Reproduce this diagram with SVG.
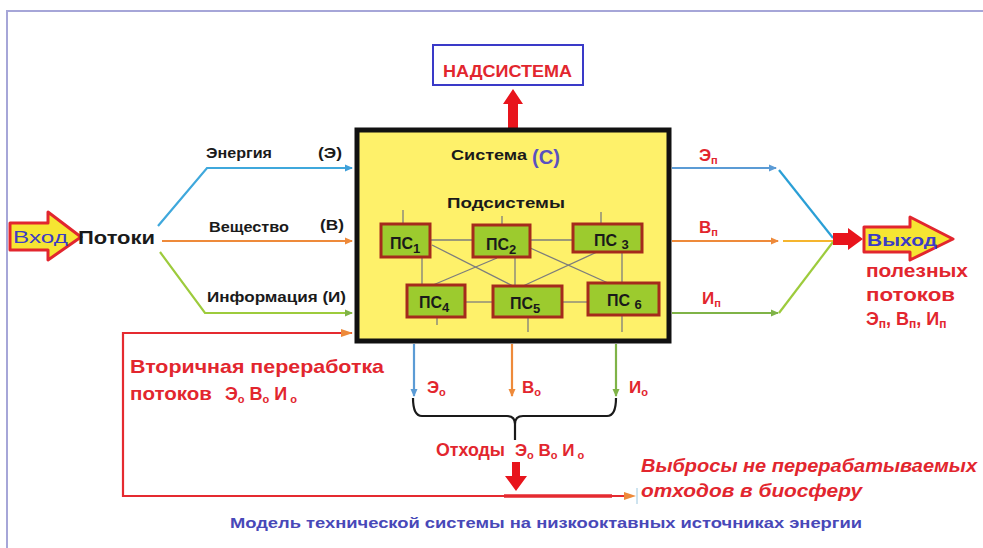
<svg xmlns="http://www.w3.org/2000/svg" width="983" height="548" viewBox="0 0 983 548">
  <defs>
    <style>
      text { font-family: "Liberation Sans", "DejaVu Sans", sans-serif; font-weight: bold; }
      .blk { fill: #1a1a1a; }
      .red { fill: #e2262e; }
      .blu { fill: #3c3cc4; }
      .lbl { font-size: 14px; fill: #1a1a1a; }
      .ps rect { fill: #9ccb2e; stroke: #a52a1c; stroke-width: 3; }
      .ps text { font-size: 16px; fill: #1a1a1a; }
      .net line { stroke: #7d7d7d; stroke-width: 1.3; }
      .flow { fill: none; stroke-width: 2.2; }
    </style>
    <marker id="ah-blue" markerWidth="8" markerHeight="8" refX="7" refY="4" orient="auto" markerUnits="userSpaceOnUse">
      <path d="M0,0.5 L8,4 L0,7.5 Z" fill="#3fa0da"/>
    </marker>
    <marker id="ah-orange" markerWidth="8" markerHeight="8" refX="7" refY="4" orient="auto" markerUnits="userSpaceOnUse">
      <path d="M0,0.5 L8,4 L0,7.5 Z" fill="#ee8a3a"/>
    </marker>
    <marker id="ah-green" markerWidth="8" markerHeight="8" refX="7" refY="4" orient="auto" markerUnits="userSpaceOnUse">
      <path d="M0,0.5 L8,4 L0,7.5 Z" fill="#7fb347"/>
    </marker>
    <marker id="ah-blue2" markerWidth="8" markerHeight="8" refX="7" refY="4" orient="auto" markerUnits="userSpaceOnUse">
      <path d="M0,0.5 L8,4 L0,7.5 Z" fill="#5b9bd5"/>
    </marker>
  </defs>

  <rect width="983" height="548" fill="#ffffff"/>
  <!-- page frame -->
  <path d="M7,548 L7,11 L983,11" fill="none" stroke="#a6a6d8" stroke-width="2"/>

  <!-- connectors -->
  <g id="connectors">
    <!-- input flows -->
    <path class="flow" d="M158,226 L207,168 L352,168" stroke="#3fa8dc" marker-end="url(#ah-blue)"/>
    <path class="flow" d="M162,241 L352,241" stroke="#ee8a3a" marker-end="url(#ah-orange)"/>
    <path class="flow" d="M160,252 L205,313 L352,313" stroke="#9dcb3c" marker-end="url(#ah-green)"/>

    <!-- output flows -->
    <path class="flow" d="M672,168 L776,168" stroke="#5b9bd5" marker-end="url(#ah-blue2)"/>
    <path class="flow" d="M779,170 L833,238" stroke="#2a9fd6"/>
    <path class="flow" d="M672,241 L778,241" stroke="#ee8a3a" marker-end="url(#ah-orange)"/>
    <path class="flow" d="M783,241 L833,241" stroke="#f5b52e"/>
    <path class="flow" d="M672,313 L778,313" stroke="#7fb347" marker-end="url(#ah-green)"/>
    <path class="flow" d="M779,313 L833,242" stroke="#9dcb3c"/>

    <!-- red arrow to output -->
    <path d="M833,233 L848,233 L848,228 L863,239 L848,250 L848,245 L833,245 Z" fill="#e8141c"/>

    <!-- up arrow to supersystem -->
    <path d="M508,128 L508,104 L503,104 L513,89 L523,104 L518,104 L518,128 Z" fill="#e8141c"/>

    <!-- waste flows down -->
    <path class="flow" d="M414,344 L414,396" stroke="#5b9bd5" marker-end="url(#ah-blue2)"/>
    <path class="flow" d="M512,344 L512,396" stroke="#ee8a3a" marker-end="url(#ah-orange)"/>
    <path class="flow" d="M616,344 L616,396" stroke="#7fb347" marker-end="url(#ah-green)"/>

    <!-- brace -->
    <path d="M413,398 Q413,416 422,416 L507,416 Q515,416 515,424 L515,440 M515,424 Q515,416 523,416 L607,416 Q616,416 616,398" fill="none" stroke="#1a1a1a" stroke-width="2.2"/>

    <!-- recycling loop -->
    <path d="M352,333 L123,333 L123,496 L631,496" fill="none" stroke="#e52a30" stroke-width="2.2"/>
    <path d="M504,496 L612,496" fill="none" stroke="#e52a30" stroke-width="3.5"/>
    <path d="M341,329 L353,333 L341,337 Z" fill="#ee8a3a"/>
    <path d="M624,492 L636,496 L624,500 Z" fill="#ee8a3a"/>
    <line x1="637" y1="488" x2="637" y2="504" stroke="#9cc8e0" stroke-width="1"/>

    <!-- red arrow to biosphere -->
    <path d="M512,462 L520,462 L520,476 L527,476 L516,491 L505,476 L512,476 Z" fill="#e8141c"/>
  </g>

  <!-- input arrow -->
  <g id="node-vhod">
    <path d="M10,223 L48,223 L48,212 L81,237 L48,260 L48,250 L10,250 Z" fill="#f6e532" stroke="#e2262e" stroke-width="3" stroke-linejoin="round"/>
    <text x="13" y="243" font-size="17" class="blu" style="font-weight:normal" textLength="55" lengthAdjust="spacingAndGlyphs">Вход</text>
  </g>

  <g id="node-potoki">
    <text x="78" y="244" font-size="18" class="blk" textLength="77" lengthAdjust="spacingAndGlyphs">Потоки</text>
  </g>

  <!-- flow labels -->
  <g id="labels-in">
    <text x="206" y="158" class="lbl" textLength="66" lengthAdjust="spacingAndGlyphs">Энергия</text>
    <text x="318" y="158" class="lbl" textLength="24" lengthAdjust="spacingAndGlyphs">(Э)</text>
    <text x="209" y="232" class="lbl" textLength="80" lengthAdjust="spacingAndGlyphs">Вещество</text>
    <text x="320" y="230" class="lbl" textLength="24" lengthAdjust="spacingAndGlyphs">(В)</text>
    <text x="207" y="302" class="lbl" textLength="139" lengthAdjust="spacingAndGlyphs">Информация (И)</text>
  </g>

  <!-- supersystem -->
  <g id="node-nadsistema">
    <rect x="433" y="45" width="150" height="40" fill="#ffffff" stroke="#3a3ac8" stroke-width="2"/>
    <text x="443" y="77" font-size="16" class="red" textLength="129" lengthAdjust="spacingAndGlyphs">НАДСИСТЕМА</text>
  </g>

  <!-- system -->
  <g id="node-sistema">
    <rect x="357" y="130" width="312" height="211" fill="#fef16a" stroke="#111111" stroke-width="5"/>
    <text x="451" y="160" font-size="15" class="blk" textLength="76" lengthAdjust="spacingAndGlyphs">Система</text>
    <text x="532" y="164" font-size="20" fill="#5a52c0" textLength="28" lengthAdjust="spacingAndGlyphs">(С)</text>
    <text x="447" y="208" font-size="15" class="blk" textLength="118" lengthAdjust="spacingAndGlyphs">Подсистемы</text>

    <!-- links between subsystems -->
    <g class="net">
      <line x1="430" y1="240" x2="473" y2="240"/>
      <line x1="530" y1="240" x2="573" y2="240"/>
      <line x1="465" y1="302" x2="493" y2="302"/>
      <line x1="562" y1="302" x2="588" y2="302"/>
      <line x1="422" y1="257" x2="422" y2="285"/>
      <line x1="515" y1="257" x2="515" y2="286"/>
      <line x1="622" y1="252" x2="622" y2="283"/>
      <line x1="432" y1="245" x2="513" y2="286"/>
      <line x1="497" y1="258" x2="433" y2="285"/>
      <line x1="528" y1="247" x2="608" y2="283"/>
      <line x1="597" y1="252" x2="523" y2="286"/>
      <line x1="403" y1="210" x2="403" y2="224"/>
      <line x1="502" y1="216" x2="502" y2="225"/>
      <line x1="601" y1="212" x2="601" y2="224"/>
      <line x1="437" y1="317" x2="437" y2="325"/>
      <line x1="528" y1="317" x2="528" y2="332"/>
      <line x1="622" y1="315" x2="622" y2="332"/>
    </g>
  </g>

  <g id="node-ps1" class="ps">
    <rect x="381" y="224" width="49" height="33"/>
    <text x="390" y="249">ПС<tspan font-size="13" dy="4">1</tspan></text>
  </g>
  <g id="node-ps2" class="ps">
    <rect x="473" y="225" width="57" height="32"/>
    <text x="486" y="250">ПС<tspan font-size="13" dy="4">2</tspan></text>
  </g>
  <g id="node-ps3" class="ps">
    <rect x="573" y="224" width="69" height="28"/>
    <text x="594" y="246">ПС <tspan font-size="13" dy="3">3</tspan></text>
  </g>
  <g id="node-ps4" class="ps">
    <rect x="407" y="285" width="58" height="32"/>
    <text x="419" y="308">ПС<tspan font-size="13" dy="4">4</tspan></text>
  </g>
  <g id="node-ps5" class="ps">
    <rect x="493" y="286" width="69" height="31"/>
    <text x="510" y="309">ПС<tspan font-size="13" dy="4">5</tspan></text>
  </g>
  <g id="node-ps6" class="ps">
    <rect x="588" y="283" width="71" height="32"/>
    <text x="607" y="306">ПС <tspan font-size="13" dy="3">6</tspan></text>
  </g>

  <!-- useful outputs -->
  <g id="labels-out" font-size="17">
    <text x="699" y="161" class="red">Э<tspan font-size="11" dy="3">п</tspan></text>
    <text x="699" y="233" class="red">В<tspan font-size="11" dy="3">п</tspan></text>
    <text x="702" y="304" class="red">И<tspan font-size="11" dy="3">п</tspan></text>
  </g>

  <g id="node-vyhod">
    <path d="M864,227 L910,227 L910,217 L953,239 L910,260 L910,252 L864,252 Z" fill="#f6e532" stroke="#e2262e" stroke-width="3" stroke-linejoin="round"/>
    <text x="867" y="246" font-size="17" class="blu" textLength="70" lengthAdjust="spacingAndGlyphs">Выход</text>
    <text x="866" y="277" font-size="18" class="red" textLength="102" lengthAdjust="spacingAndGlyphs">полезных</text>
    <text x="866" y="301" font-size="18" class="red" textLength="89" lengthAdjust="spacingAndGlyphs">потоков</text>
    <text x="866" y="325" font-size="18" class="red">Э<tspan font-size="12" dy="3">п</tspan><tspan dy="-3">, В</tspan><tspan font-size="12" dy="3">п</tspan><tspan dy="-3">, И</tspan><tspan font-size="12" dy="3">п</tspan></text>
  </g>

  <!-- waste -->
  <g id="labels-waste" font-size="17">
    <text x="427" y="393" class="red">Э<tspan font-size="11" dy="3">о</tspan></text>
    <text x="522" y="393" class="red">В<tspan font-size="11" dy="3">о</tspan></text>
    <text x="629" y="393" class="red">И<tspan font-size="11" dy="3">о</tspan></text>
  </g>

  <g id="node-othody">
    <text x="436" y="456" font-size="18" class="red" textLength="69" lengthAdjust="spacingAndGlyphs">Отходы</text>
    <text x="515" y="456" font-size="17" class="red">Э<tspan font-size="11" dy="3">о</tspan><tspan dy="-3"> В</tspan><tspan font-size="11" dy="3">о</tspan><tspan dy="-3"> И</tspan><tspan font-size="11" dy="3"> о</tspan></text>
  </g>

  <g id="node-recycling">
    <text x="130" y="373" font-size="19" class="red" textLength="254" lengthAdjust="spacingAndGlyphs">Вторичная переработка</text>
    <text x="130" y="400" font-size="19" class="red"><tspan textLength="82" lengthAdjust="spacingAndGlyphs">потоков</tspan><tspan x="225" font-size="18">Э</tspan><tspan font-size="11" dy="3">о</tspan><tspan dy="-3" font-size="18"> В</tspan><tspan font-size="11" dy="3">о</tspan><tspan dy="-3" font-size="18"> И</tspan><tspan font-size="11" dy="3"> о</tspan></text>
  </g>

  <g id="node-biosphere" font-style="italic">
    <text x="641" y="472" font-size="18" class="red" textLength="336" lengthAdjust="spacingAndGlyphs">Выбросы не перерабатываемых</text>
    <text x="641" y="497" font-size="18" class="red" textLength="221" lengthAdjust="spacingAndGlyphs">отходов в биосферу</text>
  </g>

  <g id="caption">
    <text x="230" y="528" font-size="15" fill="#4848b8" textLength="632" lengthAdjust="spacingAndGlyphs">Модель технической системы на низкооктавных источниках энергии</text>
  </g>
</svg>
